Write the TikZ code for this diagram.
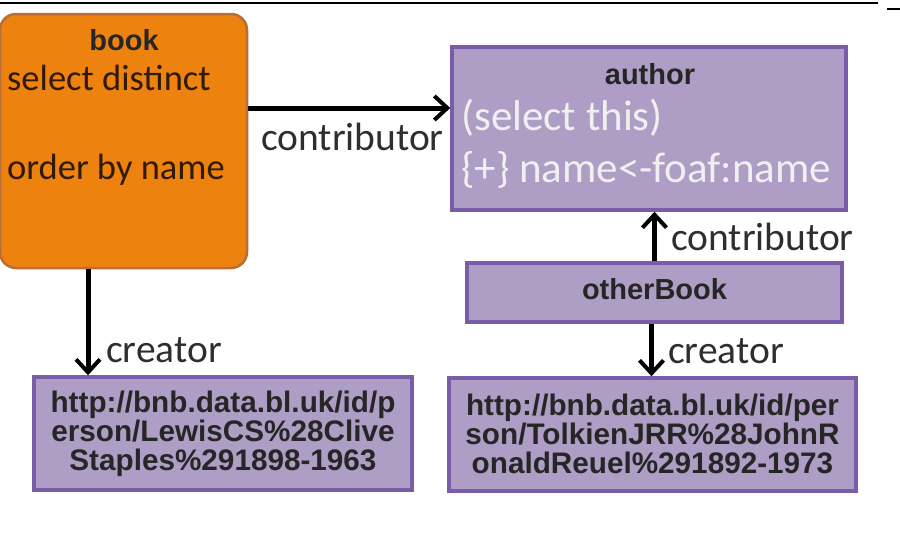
\documentclass[tikz,border=0pt]{standalone}
\usepackage{fontspec}
\setmainfont{Carlito}
\newfontfamily\arialfont{Liberation Sans}
\usetikzlibrary{arrows.meta}

\definecolor{bookfill}{HTML}{EE820E}
\definecolor{bookdraw}{HTML}{B86E36}
\definecolor{varfill}{HTML}{AE9DC5}
\definecolor{vardraw}{HTML}{7A5CA8}
\definecolor{labelgray}{HTML}{2E2E2E}

\tikzset{
  bookbox/.style={draw=bookdraw, fill=bookfill, line width=2.5pt, rounded corners=16pt, inner sep=0pt},
  varbox/.style={draw=vardraw, fill=varfill, line width=3.5pt, inner sep=0pt},
  title/.style={font=\arialfont\bfseries\fontsize{29}{29}\selectfont, text=black!85},
  uri/.style={font=\arialfont\bfseries\fontsize{29.7}{29}\selectfont, text=black!85, align=center},
  booktext/.style={anchor=west, inner sep=0pt, font=\fontsize{36.5}{36.5}\selectfont, text=black!80!bookfill},
  vartext/.style={anchor=west, inner sep=0pt, font=\fontsize{43}{43}\selectfont, text=white!94!black},
  edgelabel/.style={anchor=west, inner sep=0pt, font=\fontsize{39.5}{39.5}\selectfont, text=labelgray},
  arr/.style={line width=5pt, -{Straight Barb[length=13pt,width=24pt,line width=4pt]}}
}

\begin{document}
\begin{tikzpicture}[x=1pt,y=-1pt]
  \useasboundingbox (0,0) rectangle (900,557);

  % screenshot edge
  \draw[line width=2pt] (0,2.5) -- (878,2.5);
  \draw[line width=2pt] (887,9) -- (900,9);

  % boxes
  \node[bookbox, minimum width=247pt, minimum height=254pt] (book) at (123.5,141) {};
  \node[varbox, minimum width=394pt, minimum height=163pt] (author) at (649,128.5) {};
  \node[varbox, minimum width=375pt, minimum height=59pt] (other) at (654.5,292.5) {};
  \node[varbox, minimum width=378pt, minimum height=113pt] (lewis) at (223,433.5) {};
  \node[varbox, minimum width=407pt, minimum height=113pt] (tolkien) at (652.5,434.5) {};

  % texts
  \node[title] (booktitle) at (124,40) {book};
  \node[booktext] (distinct) at (7,78) {select distinct};
  \node[booktext] (order) at (7,170) {order by name};

  \node[title] (authortitle) at (650,74) {author};
  \node[vartext] (selthis) at (461,118) {(select this)};
  \node[vartext] (foafname) at (461,170) {\{+\} name<-foaf:name};

  \node[title] (othertitle) at (654.5,289) {otherBook};

  \node[uri] (lewisuri) at (223,434) {http://bnb.data.bl.uk/id/p\\erson/LewisCS\%28Clive\\Staples\%291898-1963};
  \node[uri] (tolkienuri) at (652.5,434) {http://bnb.data.bl.uk/id/per\\son/TolkienJRR\%28JohnR\\onaldReuel\%291892-1973};

  % connectors
  \draw[arr] ([yshift=33pt]book.east) -- ([yshift=33pt]book.east -| author.west);
  \draw[arr] ([xshift=-35.5pt]book.south) -- ([xshift=-35.5pt]book.south |- lewis.north);
  \draw[arr] (other.north) -- (other.north |- author.south);
  \draw[arr] ([xshift=-3pt]other.south) -- ([xshift=-3pt]other.south |- tolkien.north);

  \node[edgelabel] (contrib1) at (261,137) {contributor};
  \node[edgelabel] (creator1) at (106,350) {creator};
  \node[edgelabel] (contrib2) at (671,237) {contributor};
  \node[edgelabel] (creator2) at (668,351) {creator};
\end{tikzpicture}
\end{document}
